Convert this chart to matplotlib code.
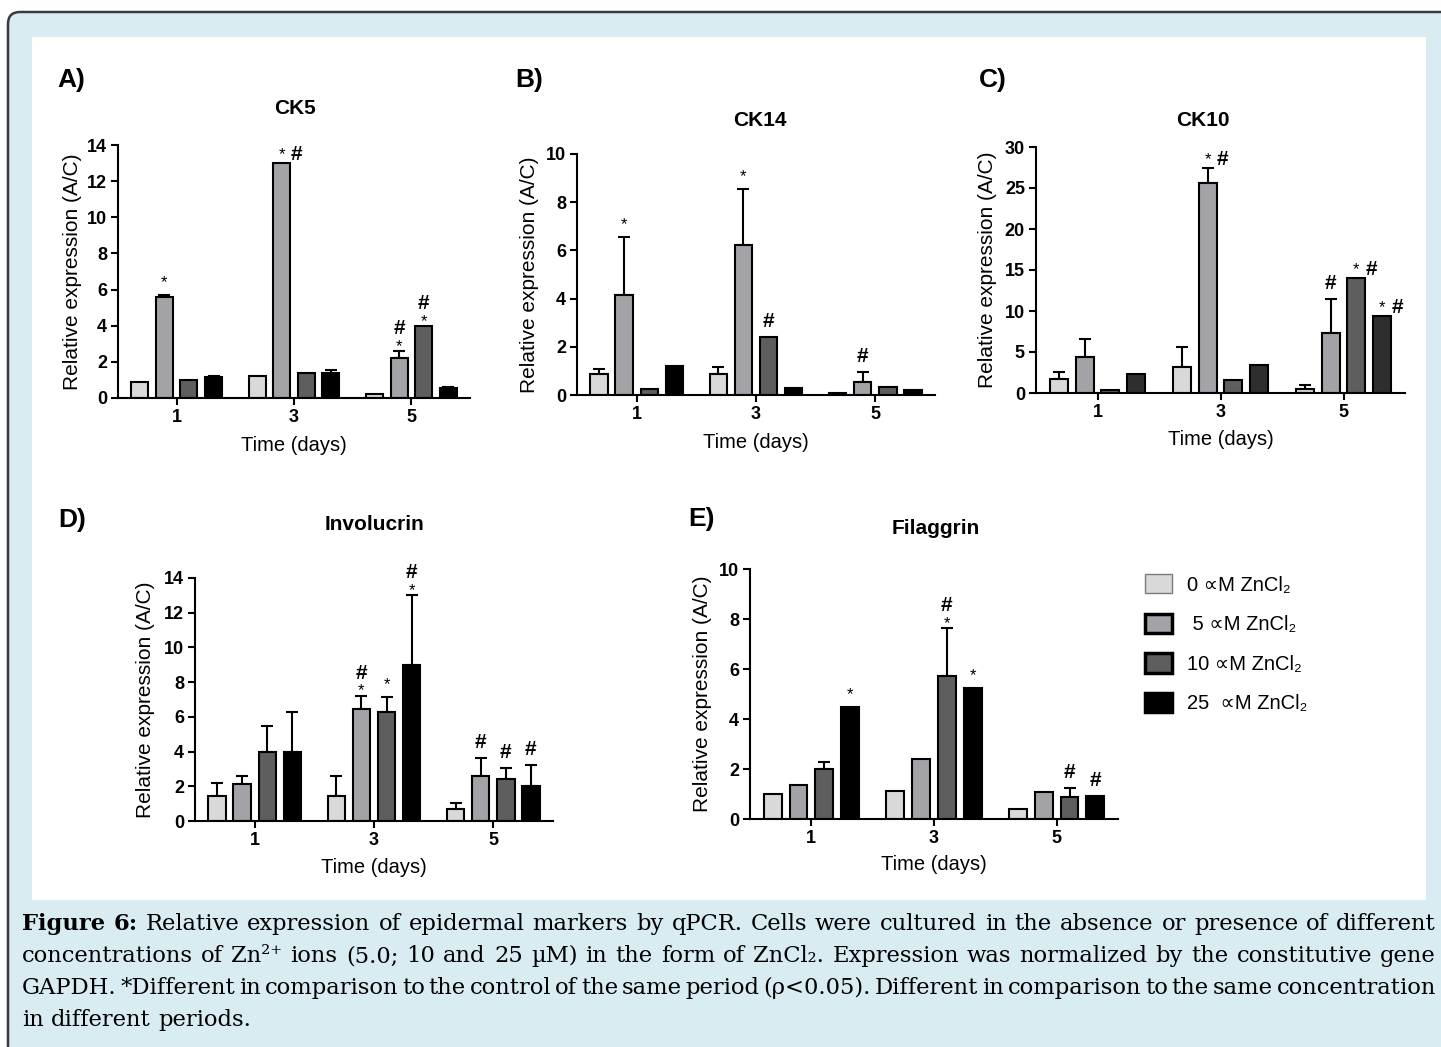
#!/usr/bin/env python3
"""Relative expression of epidermal markers by qPCR (Figure 6), five bar panels."""
import matplotlib
matplotlib.use("Agg")
import matplotlib.pyplot as plt
import numpy as np
from matplotlib.patches import Patch, FancyBboxPatch, Rectangle
from matplotlib.transforms import IdentityTransform

plt.rcParams["font.family"] = ["Liberation Sans", "DejaVu Sans"]

W, H = 1441, 1047
SERIF = ["DejaVu Serif"]
BLUE = "#d8ecf1"

DAYS = ["1", "3", "5"]
CONC = ["0 ∝M ZnCl₂", " 5 ∝M ZnCl₂", "10 ∝M ZnCl₂", "25  ∝M ZnCl₂"]
COLORS = ["#d9d9d9", "#a2a2a7", "#5e5e5e", "#000000"]
COLORS_C = ["#d9d9d9", "#a2a2a7", "#5e5e5e", "#2e2e2e"]

# rows = concentration (0, 5, 10, 25 uM), columns = day (1, 3, 5)
CK5_MEAN = [[0.87, 1.24, 0.22], [5.61, 12.99, 2.21], [1.01, 1.40, 3.97], [1.14, 1.38, 0.54]]
CK5_ERR = [[0, 0, 0], [0.09, 0, 0.37], [0, 0, 0], [0.10, 0.19, 0.05]]
CK5_MARKS = [(1, 0, "*"), (1, 1, "*#"), (1, 2, "#/*"), (2, 2, "#/*")]

CK14_MEAN = [[0.87, 0.86, 0.07], [4.17, 6.23, 0.54], [0.25, 2.40, 0.33], [1.22, 0.28, 0.21]]
CK14_ERR = [[0.21, 0.29, 0], [2.38, 2.33, 0.40], [0, 0, 0], [0, 0, 0]]
CK14_MARKS = [(1, 0, "*"), (1, 1, "*"), (2, 1, "#"), (1, 2, "#")]

CK10_MEAN = [[1.74, 3.16, 0.53], [4.38, 25.6, 7.30], [0.32, 1.54, 13.98], [2.35, 3.36, 9.40]]
CK10_ERR = [[0.81, 2.43, 0.40], [2.19, 1.80, 4.13], [0, 0, 0], [0, 0, 0]]
CK10_MARKS = [(1, 1, "*#"), (1, 2, "#"), (2, 2, "*#"), (3, 2, "*#")]

INV_MEAN = [[1.44, 1.44, 0.67], [2.12, 6.46, 2.58], [4.00, 6.27, 2.40], [4.00, 8.98, 2.02]]
INV_ERR = [[0.75, 1.14, 0.37], [0.46, 0.77, 1.05], [1.50, 0.85, 0.66], [2.29, 4.04, 1.21]]
INV_MARKS = [(1, 1, "#/*"), (2, 1, "*"), (3, 1, "#/*"), (1, 2, "#"), (2, 2, "#"), (3, 2, "#")]

FIL_MEAN = [[1.00, 1.12, 0.39], [1.36, 2.41, 1.09], [2.01, 5.72, 0.89], [4.47, 5.25, 0.92]]
FIL_ERR = [[0, 0, 0], [0, 0, 0], [0.28, 1.91, 0.34], [0, 0, 0]]
FIL_MARKS = [(3, 0, "*"), (2, 1, "#/*"), (3, 1, "*"), (2, 2, "#"), (3, 2, "#")]

CAPTION = [
    "Figure 6: Relative expression of epidermal markers by qPCR. Cells were cultured in the absence or presence of different",
    "concentrations of Zn²⁺ ions (5.0; 10 and 25 µM) in the form of ZnCl₂. Expression was normalized by the constitutive gene",
    "GAPDH. *Different in comparison to the control of the same period (ρ<0.05). Different in comparison to the same concentration",
    "in different periods.",
]
BOLD_WORDS = {"Figure", "6:"}

STEP = 0.21
WIDTH = 0.145
PT = 0.72  # points per pixel at 100 dpi


def px_axes(fig, left, top, right, bottom):
    return fig.add_axes([left / W, 1 - bottom / H, (right - left) / W, (bottom - top) / H])


def mark(ax, s, x, y, dx, base):
    if s == "*":
        kw = dict(fontsize=12)
    else:
        kw = dict(fontsize=15, fontweight="bold")
    ax.annotate(s, (x, y), xytext=(dx * PT, base * PT), textcoords="offset points",
                ha="center", va="baseline", annotation_clip=False, **kw)


def draw_panel(ax, mean, err, marks, ymax, ystep, colors, ylab_x, xlab_y, box):
    left, top, right, bottom = box
    x = np.arange(len(DAYS))
    for i in range(len(CONC)):
        m = np.asarray(mean[i], dtype=float)
        e = np.asarray(err[i], dtype=float)
        xi = x + (i - 1.5) * STEP
        ax.bar(xi, m, WIDTH, color=colors[i], edgecolor="black", linewidth=1.5, zorder=2)
        has = e > 0
        if has.any():
            ax.errorbar(xi[has], m[has], yerr=[np.zeros(has.sum()), e[has]], fmt="none",
                        ecolor="black", elinewidth=1.5, capsize=4, capthick=1.5, zorder=1)

    for ci, di, code in marks:
        xm = x[di] + (ci - 1.5) * STEP
        ym = mean[ci][di] + err[ci][di]
        if code == "*":
            mark(ax, "*", xm, ym, 0, 8)
        elif code == "#":
            mark(ax, "#", xm, ym, 0, 10)
        elif code == "*#":
            mark(ax, "*", xm, ym, 0, 4)
            mark(ax, "#", xm, ym, 15, 3)
        else:  # hash stacked over star
            mark(ax, "*", xm, ym, 0, 0)
            mark(ax, "#", xm, ym, 0, 17)

    ax.set_xlim(-0.5, 2.5)
    ax.set_ylim(0, ymax)
    ax.set_xticks(x, DAYS)
    ax.set_yticks(np.arange(0, ymax + ystep / 2, ystep))
    for s in ("top", "right"):
        ax.spines[s].set_visible(False)
    for s in ("left", "bottom"):
        ax.spines[s].set_linewidth(1.5)
    ax.tick_params(direction="out", length=5, width=1.5, labelsize=13, pad=3)
    for lbl in ax.get_xticklabels() + ax.get_yticklabels():
        lbl.set_fontweight("bold")
    ax.set_facecolor("none")
    ax.set_ylabel("Relative expression (A/C)", fontsize=15)
    ax.yaxis.set_label_coords((ylab_x - left) / (right - left), 0.5)
    ax.set_xlabel("Time (days)", fontsize=14.5)
    ax.xaxis.set_label_coords(0.5, -(xlab_y - bottom) / (bottom - top))


def place_words(fig, r, words, n, base, fs):
    texts = []
    for w in words:
        bold = n == 0 and w in BOLD_WORDS
        texts.append(fig.text(0, 1 - base / H, w, fontsize=fs, family=SERIF, va="baseline",
                              ha="left", fontweight="bold" if bold else "normal"))
    widths = [t.get_window_extent(renderer=r).width for t in texts]
    return texts, widths


def caption(fig):
    r = fig.canvas.get_renderer()
    x0, x1 = 22, 1436
    # size the serif so the first line fills the column with normal word spacing
    probe = fig.text(0, 0, CAPTION[0].split(": ")[1], fontsize=14, family=SERIF)
    head = fig.text(0, 0, "Figure 6: ", fontsize=14, family=SERIF, fontweight="bold")
    w14 = probe.get_window_extent(renderer=r).width + head.get_window_extent(renderer=r).width
    probe.remove()
    head.remove()
    fs0 = 14 * (x1 - x0 - 10) / w14
    sp = fig.text(0, 0, "a a", fontsize=fs0, family=SERIF)
    sp2 = fig.text(0, 0, "aa", fontsize=fs0, family=SERIF)
    space = sp.get_window_extent(renderer=r).width - sp2.get_window_extent(renderer=r).width
    sp.remove()
    sp2.remove()

    for n, line in enumerate(CAPTION):
        base = 930 + 32 * n
        words = line.split(" ")
        fs = fs0
        texts, widths = place_words(fig, r, words, n, base, fs)
        last = n == len(CAPTION) - 1
        if not last:
            need = sum(widths) + 0.45 * space * (len(words) - 1)
            if need > x1 - x0:
                for t in texts:
                    t.remove()
                fs = fs0 * (x1 - x0) / need
                texts, widths = place_words(fig, r, words, n, base, fs)
            gap = (x1 - x0 - sum(widths)) / (len(words) - 1)
        else:
            gap = space
        xpos = x0
        for t, w in zip(texts, widths):
            t.set_x(xpos / W)
            xpos += w + gap


def main():
    fig = plt.figure(figsize=(W / 100, H / 100), dpi=100, facecolor="white")

    frame = FancyBboxPatch((8, -30), 1520, H - 12 + 30, boxstyle="round,pad=0,rounding_size=12",
                           facecolor=BLUE, edgecolor="#3a3a3a", linewidth=1.8,
                           transform=IdentityTransform(), zorder=-3)
    fig.add_artist(frame)
    panel = Rectangle((32, H - 900), 1394, 863, facecolor="white", edgecolor="none",
                      transform=IdentityTransform(), zorder=-2)
    fig.add_artist(panel)

    panels = [
        ((118, 145, 470, 398), CK5_MEAN, CK5_ERR, CK5_MARKS, 14, 2, COLORS, 82, 436, "CK5", (295, 108), "A)", (71, 80)),
        ((577, 154, 935, 395), CK14_MEAN, CK14_ERR, CK14_MARKS, 10, 2, COLORS, 539, 433, "CK14", (760, 120), "B)", (529, 80)),
        ((1036, 147, 1405, 393), CK10_MEAN, CK10_ERR, CK10_MARKS, 30, 5, COLORS_C, 997, 430, "CK10", (1203, 120), "C)", (993, 80)),
        ((195, 578, 553, 821), INV_MEAN, INV_ERR, INV_MARKS, 14, 2, COLORS, 155, 858, "Involucrin", (374, 524), "D)", (72, 520)),
        ((750, 569, 1118, 819), FIL_MEAN, FIL_ERR, FIL_MARKS, 10, 2, COLORS, 712, 855, "Filaggrin", (936, 529), "E)", (702, 519)),
    ]
    for box, mean, err, marks, ymax, ystep, cols, ylx, xly, title, tpos, letter, lpos in panels:
        ax = px_axes(fig, *box)
        draw_panel(ax, mean, err, marks, ymax, ystep, cols, ylx, xly, box)
        fig.text(tpos[0] / W, 1 - tpos[1] / H, title, fontsize=15, fontweight="bold",
                 ha="center", va="center")
        fig.text(lpos[0] / W, 1 - lpos[1] / H, letter, fontsize=19, fontweight="bold",
                 ha="center", va="center")

    edge = ["#7a7a7a", "black", "black", "black"]
    lw = [1.0, 2.5, 2.5, 2.5]
    handles = [Patch(facecolor=c, edgecolor=e, linewidth=l) for c, e, l in zip(COLORS, edge, lw)]
    fig.legend(handles, CONC, loc="upper left", bbox_to_anchor=(1145 / W, 1 - 574 / H),
               frameon=False, fontsize=14.5, handlelength=1.35, handleheight=1.1,
               labelspacing=0.95, handletextpad=0.75, borderpad=0, borderaxespad=0)

    caption(fig)
    fig.savefig("out.png", dpi=100)


if __name__ == "__main__":
    main()
